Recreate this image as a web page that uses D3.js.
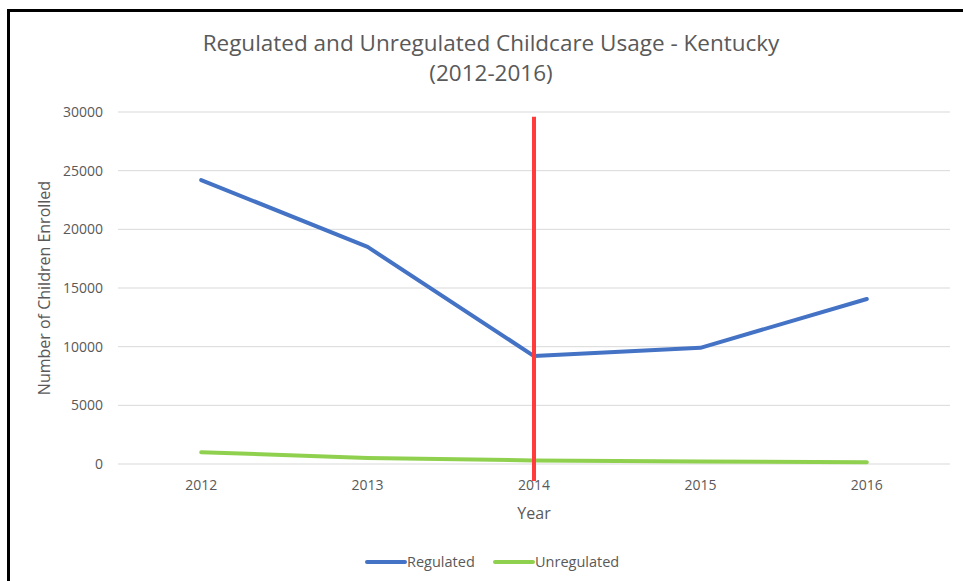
<!DOCTYPE html>
<html>
<head>
<meta charset="utf-8">
<script src="https://cdn.jsdelivr.net/npm/d3@7"></script>
<style>
  body { margin: 0; background: #fff; }
  text { font-family: "Open Sans", "Noto Sans", sans-serif; fill: #595959; }
</style>
</head>
<body>
<svg width="963" height="581"></svg>
<script>
var years = ["2012", "2013", "2014", "2015", "2016"];
var regulated = [24200, 18500, 9200, 9900, 14060];
var unregulated = [1000, 520, 300, 220, 150];
var yTicks = [0, 5000, 10000, 15000, 20000, 25000, 30000];
var markerYear = "2014";

var series = [
    { name: "Regulated", values: regulated, color: "#4472C4" },
    { name: "Unregulated", values: unregulated, color: "#8FD14F" }
];

var svg = d3.select("svg"),
    margin = { top: 112, right: 13, bottom: 117, left: 118 },
    width = +svg.attr("width") - margin.left - margin.right,
    height = +svg.attr("height") - margin.top - margin.bottom;

// outer frame (only top and left edges show in the picture)
svg.append("rect")
    .attr("x", 8.5).attr("y", 10.5)
    .attr("width", 1000).attr("height", 1000)
    .attr("fill", "none").attr("stroke", "#000").attr("stroke-width", 3);

var g = svg.append("g").attr("transform", "translate(" + margin.left + "," + margin.top + ")");

var x = d3.scaleBand().domain(years).range([0, width]);
var y = d3.scaleLinear().domain([0, 30000]).range([height, 0]);

// gridlines
g.selectAll(".grid")
    .data(yTicks)
    .enter().append("line")
    .attr("x1", 0).attr("x2", width)
    .attr("y1", function(d) { return y(d); })
    .attr("y2", function(d) { return y(d); })
    .attr("stroke", "#d9d9d9").attr("stroke-width", 1);

var yAxis = g.append("g")
    .call(d3.axisLeft(y).tickValues(yTicks).tickSize(0).tickPadding(15).tickFormat(d3.format("d")));
yAxis.select(".domain").remove();
yAxis.selectAll("text").attr("font-size", 14).attr("fill", "#595959");

var xAxis = g.append("g")
    .attr("transform", "translate(0," + height + ")")
    .call(d3.axisBottom(x).tickSize(0).tickPadding(16));
xAxis.select(".domain").remove();
xAxis.selectAll("text").attr("font-size", 14).attr("fill", "#595959");

var line = d3.line()
    .x(function(d, i) { return x(years[i]) + x.bandwidth() / 2; })
    .y(function(d) { return y(d); });

series.forEach(function(s) {
    g.append("path")
        .datum(s.values)
        .attr("d", line)
        .attr("fill", "none")
        .attr("stroke", s.color)
        .attr("stroke-width", 4)
        .attr("stroke-linecap", "round")
        .attr("stroke-linejoin", "round");
});

// red marker line at 2014
var mx = x(markerYear) + x.bandwidth() / 2;
g.append("line")
    .attr("x1", mx).attr("x2", mx)
    .attr("y1", y(29600)).attr("y2", height + 17)
    .attr("stroke", "#FF3B3B").attr("stroke-width", 4);

// titles
svg.append("text")
    .attr("x", 491).attr("y", 51)
    .attr("text-anchor", "middle")
    .attr("font-size", 22.5)
    .text("Regulated and Unregulated Childcare Usage - Kentucky");
svg.append("text")
    .attr("x", 491).attr("y", 81)
    .attr("text-anchor", "middle")
    .attr("font-size", 22.5)
    .text("(2012-2016)");

svg.append("text")
    .attr("x", margin.left + width / 2).attr("y", 519)
    .attr("text-anchor", "middle")
    .attr("font-size", 16)
    .text("Year");

svg.append("text")
    .attr("transform", "translate(50," + (margin.top + height / 2) + ") rotate(-90)")
    .attr("text-anchor", "middle")
    .attr("font-size", 16)
    .text("Number of Children Enrolled");

// legend
var legend = svg.append("g").selectAll("g")
    .data(series)
    .enter().append("g")
    .attr("transform", function(d, i) { return "translate(" + (367 + i * 128) + ",562)"; });
legend.append("line")
    .attr("x1", 0).attr("x2", 38)
    .attr("stroke", function(d) { return d.color; })
    .attr("stroke-width", 4)
    .attr("stroke-linecap", "round");
legend.append("text")
    .attr("x", 40).attr("dy", "0.35em")
    .attr("font-size", 14.5)
    .text(function(d) { return d.name; });
</script>
</body>
</html>
